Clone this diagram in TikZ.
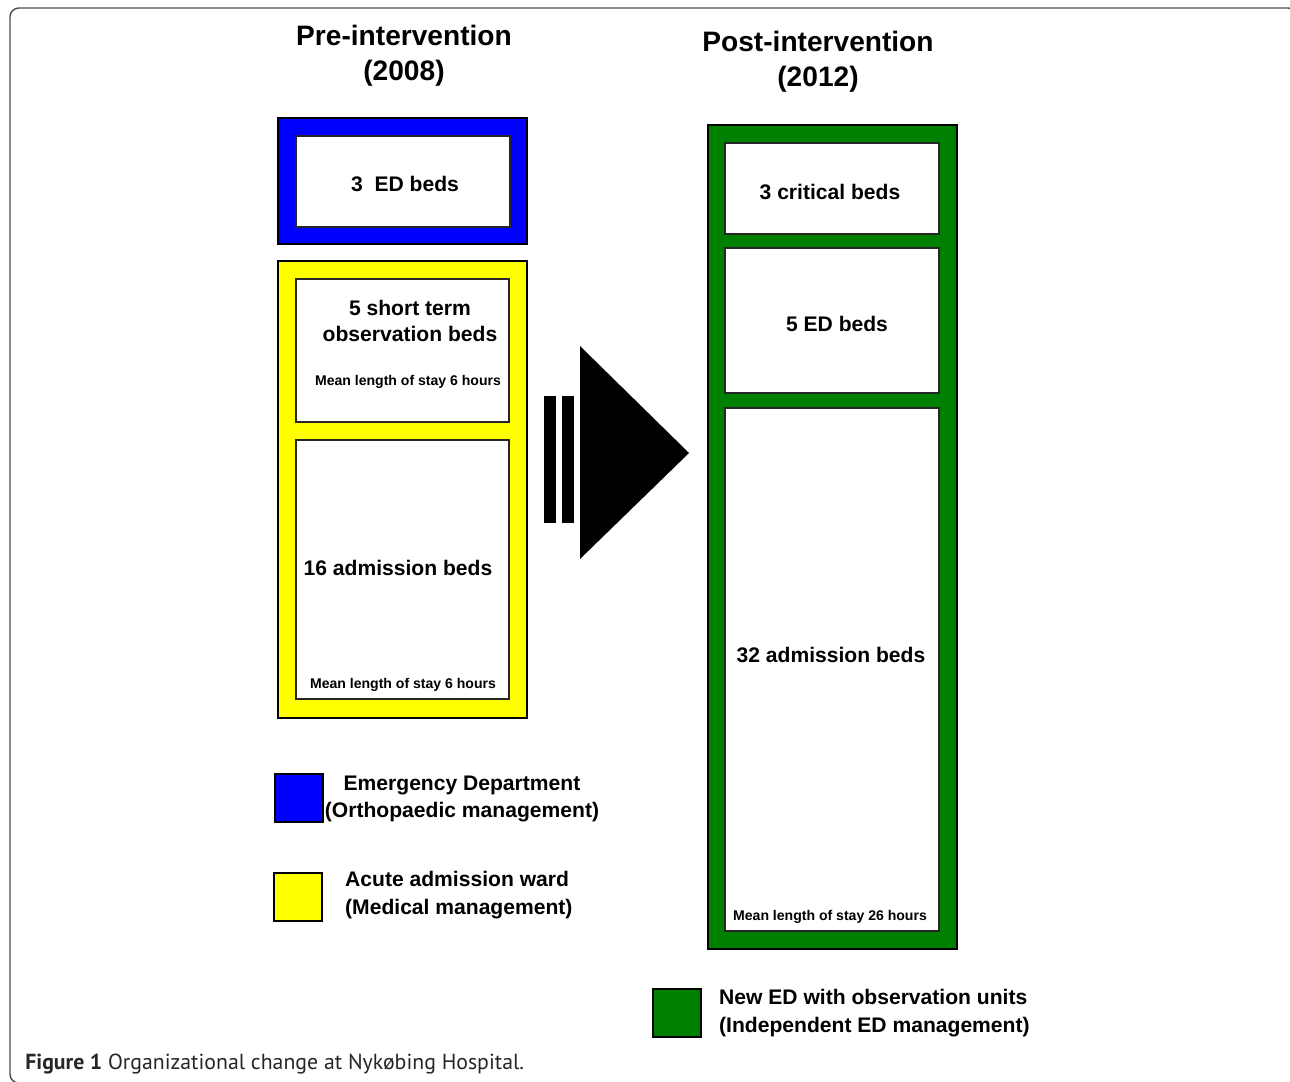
\documentclass[tikz,border=0pt]{standalone}
\usepackage{fontspec}
\setmainfont{Liberation Sans}
\newfontfamily\capfont{PT Sans}
\usetikzlibrary{fit}
\definecolor{edblue}{RGB}{0,0,255}
\definecolor{wardyellow}{RGB}{255,255,0}
\definecolor{newgreen}{RGB}{0,128,0}
\begin{document}
\begin{tikzpicture}
  [x=0.02cm,y=-0.02cm,
   unitB/.style={draw=black,line width=1.2pt,inner sep=0pt},
   bedB/.style={draw=black!85,fill=white,line width=0.9pt,inner sep=0pt},
   keyB/.style={draw=black,line width=0.9pt,minimum size=0.95cm,inner sep=0pt},
   headT/.style={font=\fontsize{16}{20}\selectfont\bfseries,align=center},
   bedT/.style={font=\fontsize{12}{15.3}\selectfont\bfseries,align=center},
   stayT/.style={font=\fontsize{8}{10}\selectfont\bfseries},
   keyT/.style={font=\fontsize{12}{15.5}\selectfont\bfseries}
  ]
  \useasboundingbox (0,0) rectangle (1290,1081);
  \begin{scope}
    \clip (0,0) rectangle (1290,1081);
    \draw[black!70,line width=0.8pt,rounded corners=5pt] (10,8) rectangle (1297,1083);
  \end{scope}

  % headings
  \node[headT] (pre) at (404,56) {Pre-intervention\\(2008)};
  \node[headT] (post) at (818,62) {Post-intervention\\(2012)};

  % 2008
  \node[unitB,fill=edblue,fit={(278,118) (527,244)}] (edold) {};
  \node[bedB,fit={(296,136) (510,227)}] (edbeds) {};
  \node[bedT] (edbedst) at (405,184) {3\ \ ED beds};

  \node[unitB,fill=wardyellow,fit={(278,261) (527,718)}] (ward) {};
  \node[bedB,fit={(296,279) (509,422)}] (obs) {};
  \node[bedT] (obst) at (410,321) {5 short term\\observation beds};
  \node[stayT] (obsstay) at (408,382) {Mean length of stay 6 hours};
  \node[bedB,fit={(296,440) (509,699)}] (adm) {};
  \node[bedT] (admt) at (398,568) {16 admission beds};
  \node[stayT] (admstay) at (403,685) {Mean length of stay 6 hours};

  % arrow
  \foreach \x in {544,562} {
     \fill (\x,396) rectangle (\x+12,523);
  }
  \fill (580,346) -- (689,453) -- (580,559) -- cycle;

  % 2012
  \node[unitB,fill=newgreen,fit={(708,125) (957,949)}] (ednew) {};
  \node[bedB,fit={(725,143) (939,234)}] (crit) {};
  \node[bedT] (critt) at (830,192) {3 critical beds};
  \node[bedB,fit={(725,248) (939,393)}] (edbedsnew) {};
  \node[bedT] (edbedsnewt) at (837,324) {5 ED beds};
  \node[bedB,fit={(725,408) (939,931)}] (admnew) {};
  \node[bedT] (admnewt) at (831,655) {32 admission beds};
  \node[stayT] (admnewstay) at (830,917) {Mean length of stay 26 hours};

  % key
  \foreach \c/\x/\y/\n in {edblue/299/798/kb,wardyellow/298/897/ky,newgreen/677/1013/kg} {
     \node[keyB,fill=\c] (\n) at (\x,\y) {};
  }
  \node[keyT,align=center] (kbt) at (462,799) {Emergency Department\\(Orthopaedic management)};
  \node[keyT,align=left,anchor=west] (kyt) at (339,895) {Acute admission ward\\(Medical management)};
  \node[keyT,align=left,anchor=west] (kgt) at (713,1013) {New ED with observation units\\(Independent ED management)};

  % caption
  \node[anchor=west,inner sep=0pt,text=black!85,font=\capfont\fontsize{12.4}{15}\selectfont] (cap) at (25,1064)
     {\textbf{Figure 1} Organizational change at Nykøbing Hospital.};
\end{tikzpicture}
\end{document}
